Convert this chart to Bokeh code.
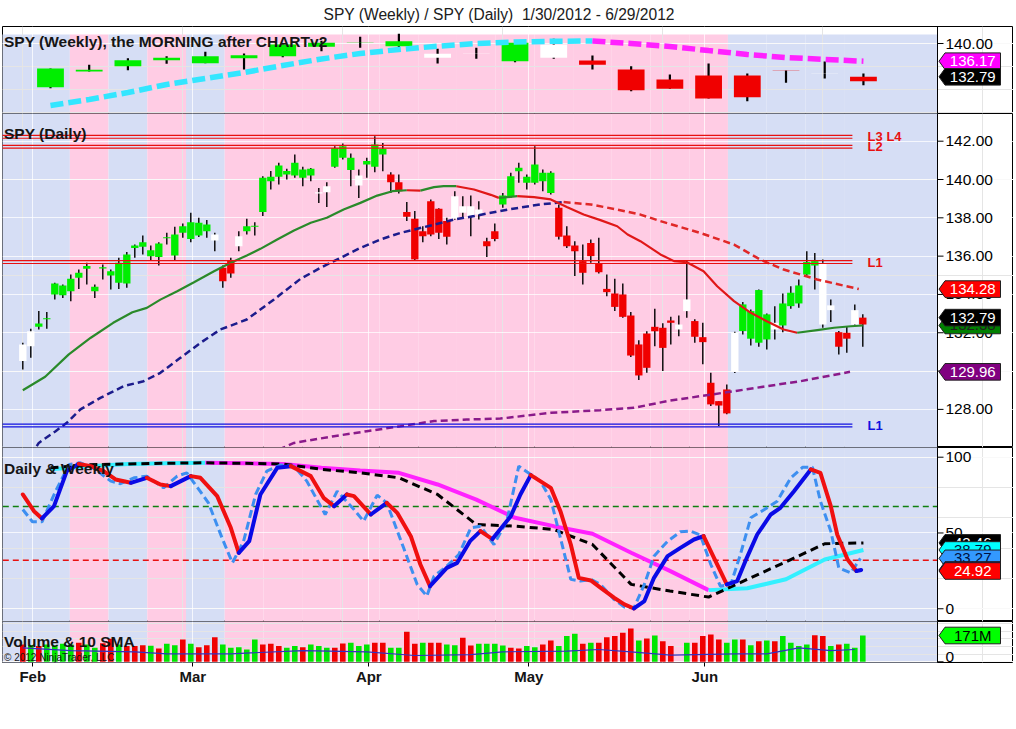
from bokeh.plotting import figure
from bokeh.layouts import column
from bokeh.models import Range1d, FixedTicker, Grid, Label, LinearAxis
from bokeh.embed import file_html
from bokeh.resources import INLINE
from bokeh.core.properties import value

FONT = "Liberation Sans"
TITLE = "SPY (Weekly) / SPY (Daily)\u00a0 1/30/2012 - 6/29/2012"

# ---------------- data ----------------
month_labels = ["Feb", "Mar", "Apr", "May", "Jun"]
month_start_bar = [1, 21, 43, 63, 85]

week_ending = ["2/3", "2/10", "2/17", "2/24", "3/2", "3/9", "3/16", "3/23", "3/30", "4/5", "4/13",
               "4/20", "4/27", "5/4", "5/11", "5/18", "5/25", "6/1", "6/8", "6/15", "6/22", "6/29"]
w_open = [130.54, 133.94, 135.09, 136.39, 135.74, 136.82, 137.25, 139.29, 140.20, 139.42, 137.77,
          137.90, 136.17, 139.78, 136.32, 134.37, 132.21, 133.07, 133.07, 134.16, 133.45, 131.84]
w_close = [134.59, 134.31, 136.39, 136.90, 137.25, 137.47, 139.78, 140.15, 140.28, 140.50, 136.90,
           137.84, 140.15, 136.90, 135.39, 129.89, 130.19, 128.10, 128.38, 134.10, 133.50, 132.79]
w_high = [134.60, 135.39, 136.82, 137.25, 138.20, 137.84, 139.78, 140.58, 141.45, 142.10, 138.85,
          139.07, 140.15, 141.02, 137.40, 135.09, 133.29, 135.67, 133.50, 134.16, 136.10, 133.50]
w_low = [130.32, 133.94, 134.22, 135.60, 135.74, 134.37, 137.03, 138.33, 139.07, 139.20, 135.67,
         136.69, 135.95, 136.69, 134.37, 129.68, 130.19, 128.10, 127.51, 131.49, 132.42, 130.97]
w_color = ["g", "g", "g", "g", "g", "g", "g", "g", "g", "g", "w",
           "w", "g", "w", "r", "r", "r", "r", "r", "r", "w", "r"]
w_bias = ["b", "p", "b", "p", "b", "p", "p", "p", "p", "p", "p",
          "p", "p", "p", "p", "p", "p", "p", "b", "b", "b", "b"]
w_ma = [126.58, 127.88, 129.39, 131.13, 132.42, 133.72, 135.24, 136.65, 137.84, 138.70, 139.42,
        140.00, 140.32, 140.50, 140.54, 140.00, 139.35, 138.48, 137.62, 136.97, 136.54, 136.17]
w_stoch_k = [93.0, 95.0, 95.5, 96.0, 96.3, 96.0, 95.5, 92.0, 89.7, 86.4, 75.4,
             55.6, 54.5, 52.3, 42.4, 16.1, 11.7, 7.7, 19.4, 31.0, 42.9, 43.46]
w_stoch_d = [92.0, 94.0, 95.5, 96.0, 96.3, 96.0, 95.5, 93.0, 91.3, 89.7, 82.0,
             72.0, 60.0, 54.5, 49.5, 37.0, 25.0, 12.3, 13.5, 19.5, 32.5, 38.79]

d_open = [131.39, 132.08, 132.31, 132.70, 134.00, 133.96, 134.17, 134.87, 135.34, 134.17,
          135.36, 134.99, 134.61, 134.57, 136.42, 136.49, 136.00, 135.96, 136.93, 136.03,
          137.22, 136.90, 137.08, 137.30, 137.13, 135.39, 135.74, 137.04, 137.30, 137.53,
          138.30, 139.91, 140.14, 140.26, 140.21, 140.09, 140.21, 139.33, 139.65, 140.66,
          141.13, 140.49, 140.21, 140.78, 140.66, 141.30, 140.26, 139.86, 138.30, 137.95,
          137.30, 138.87, 138.47, 137.83, 139.13, 138.61, 138.61, 138.43, 136.78, 137.30,
          138.69, 139.13, 140.43, 139.83, 139.83, 139.91, 139.30, 138.52, 137.08, 136.56,
          135.74, 136.69, 135.60, 134.29, 134.05, 134.00, 132.90, 131.39, 131.96, 132.31,
          132.26, 132.64, 132.43, 133.74, 132.61, 131.77, 129.39, 128.43, 129.04, 132.00,
          132.09, 131.69, 131.48, 131.65, 132.52, 132.38, 133.39, 133.53, 135.04, 135.51,
          135.65, 133.43, 132.03, 132.00, 133.18, 132.43]
d_close = [130.52, 131.30, 132.48, 132.76, 134.57, 134.47, 134.82, 135.13, 135.48, 134.40,
           135.42, 135.21, 135.65, 136.09, 136.56, 136.73, 136.31, 136.66, 136.99, 137.13,
           137.56, 137.77, 137.74, 137.65, 136.82, 134.69, 135.09, 136.52, 137.56, 137.59,
           140.09, 140.14, 140.73, 140.44, 140.87, 140.52, 140.56, 139.27, 139.34, 141.65,
           141.74, 141.13, 139.69, 140.96, 141.83, 141.60, 139.86, 139.39, 138.05, 135.83,
           137.04, 137.13, 137.22, 137.01, 137.95, 138.26, 138.05, 138.17, 136.52, 136.90,
           139.16, 140.17, 140.61, 140.14, 140.78, 140.35, 140.35, 137.01, 136.52, 136.26,
           135.13, 136.00, 135.16, 134.12, 133.35, 132.83, 130.81, 129.77, 130.17, 132.08,
           131.21, 132.52, 132.17, 133.13, 131.79, 131.51, 128.26, 128.20, 127.79, 129.95,
           133.48, 133.13, 134.23, 132.96, 132.17, 133.53, 134.09, 134.47, 135.69, 135.74,
           132.43, 133.18, 131.27, 131.69, 132.43, 132.79]
d_high = [131.48, 132.21, 133.13, 133.08, 134.61, 134.52, 135.04, 135.30, 135.65, 134.52,
          135.56, 135.30, 135.91, 136.21, 136.61, 137.08, 136.56, 136.72, 137.22, 137.53,
          137.70, 138.26, 138.00, 137.88, 137.22, 135.51, 135.91, 137.30, 137.95, 137.77,
          140.17, 140.44, 140.87, 140.56, 141.30, 140.66, 140.60, 139.56, 139.86, 141.74,
          141.88, 141.36, 140.52, 141.13, 142.26, 141.91, 140.38, 140.26, 138.82, 138.35,
          137.56, 138.96, 138.50, 138.00, 139.39, 139.13, 139.16, 138.87, 136.96, 137.70,
          139.30, 140.35, 140.87, 140.26, 141.74, 140.52, 140.43, 138.69, 137.56, 136.78,
          136.61, 136.87, 136.96, 135.04, 134.82, 134.57, 133.08, 131.61, 132.08, 133.25,
          132.50, 132.83, 132.90, 135.74, 132.70, 132.52, 129.91, 128.43, 129.30, 132.05,
          133.60, 133.22, 134.26, 133.00, 133.39, 134.05, 134.43, 134.78, 136.26, 136.17,
          135.83, 133.74, 132.09, 132.35, 133.48, 132.96]
d_low = [130.08, 130.69, 132.17, 132.21, 133.74, 133.82, 133.65, 134.29, 134.52, 133.82,
         134.78, 134.26, 134.29, 134.35, 135.91, 136.09, 135.79, 135.51, 136.61, 135.79,
         136.96, 136.73, 137.00, 136.96, 136.26, 134.35, 134.87, 136.26, 137.13, 137.08,
         138.09, 139.48, 139.74, 140.00, 140.09, 139.65, 139.91, 138.78, 138.57, 140.61,
         141.04, 139.65, 139.04, 140.09, 140.38, 140.43, 139.30, 139.27, 137.83, 135.79,
         136.73, 137.04, 136.90, 136.61, 137.90, 138.00, 137.04, 137.91, 135.96, 136.78,
         138.52, 139.04, 139.83, 139.48, 139.74, 139.39, 139.22, 136.87, 136.43, 134.96,
         134.52, 135.65, 135.09, 133.91, 133.13, 132.78, 130.74, 129.53, 129.91, 131.30,
         130.00, 131.39, 131.82, 132.78, 131.48, 130.35, 128.17, 127.13, 127.74, 129.90,
         131.91, 131.34, 131.27, 131.13, 131.65, 132.03, 133.25, 133.30, 134.99, 134.26,
         132.26, 132.56, 130.87, 130.96, 132.38, 131.27]
d_color = list("wwgggggggg" "gggggggggg" "ggggwrrwgg" "gggggggwwg" "ggwgggrrrr"
               "rrrrwwwwrr" "gggggggrrr" "rrrrrrrrrr" "rrwwrrrrrw" "ggggwggggg" "wwrrwr")

volume = [113, 110, 102, 113, 108, 117, 113, 124, 113, 91,
          120, 150, 113, 102, 102, 108, 104, 87, 117, 108,
          145, 117, 95, 108, 160, 113, 91, 95, 80, 145,
          113, 117, 102, 91, 102, 95, 113, 102, 91, 91,
          119, 124, 102, 113, 124, 124, 91, 91, 195, 117,
          124, 124, 124, 113, 108, 156, 106, 117, 117, 117,
          106, 91, 87, 102, 95, 113, 139, 102, 167, 182,
          117, 124, 124, 160, 167, 189, 216, 139, 152, 171,
          134, 102, 0, 124, 124, 167, 178, 145, 124, 145,
          145, 108, 134, 139, 134, 167, 124, 102, 113, 173,
          167, 102, 113, 117, 91, 171]
vol_color = list("rgrggggrgg" "rrgrrrgrgg" "rgrrrggggg" "rrrggrgggr" "rgggrrggrr"
                 "grrggrrggg" "grrggrrggg" "rgrrrrrgrg" "rrggrrrrgg" "rgrgrggggr" "rgrggg")
vol_sma_day = [0, 6, 14, 18, 26, 35, 43, 49, 56, 60, 68, 72, 76, 81, 89, 93, 97, 101, 104]
vol_sma = [91, 73, 65, 52, 52, 73, 65, 41, 47, 65, 69, 80, 65, 43, 52, 52, 91, 73, 80]

ma_fast_day = [0, 2.8, 5.75, 8.5, 11.3, 13.7, 15.5, 17.2, 19.3, 21.4, 23.9, 26, 28, 29.7, 31.8,
               33.9, 36, 38, 40.1, 42.2, 44.3, 46.2, 48, 49.7, 51.4, 52.6, 54.2, 56.4, 58.5,
               59.5, 61.8, 63.9, 66, 68, 70.1, 72.2, 74.3, 75.6, 77.2, 79.7, 81.4, 83, 85.1,
               86.8, 88.9, 91, 93, 95.1, 96.8, 99.3, 101.4, 103.5, 105]
ma_fast = [129.0, 129.7, 130.87, 131.74, 132.52, 133.07, 133.3, 133.73, 134.17, 134.64, 135.21,
           135.65, 136.03, 136.38, 136.87, 137.34, 137.74, 138.0, 138.43, 138.78, 139.16, 139.39,
           139.44, 139.42, 139.6, 139.65, 139.65, 139.48, 139.2, 139.04, 139.13, 139.08, 138.96,
           138.57, 138.17, 137.88, 137.56, 137.13, 136.78, 136.09, 135.74, 135.68, 135.21,
           134.43, 133.65, 133.04, 132.6, 132.17, 132.0, 132.14, 132.26, 132.34, 132.38]
ma_mid_day = [1, 2, 4.1, 5.5, 7.2, 9.7, 12.6, 15.1, 17.2, 19.7, 22.2, 24.7, 28, 31.4, 34.7, 37.2,
              39.7, 42.2, 44.7, 47.2, 50.6, 53.9, 56.4, 60.6, 64.7, 67.6, 71, 74.3, 77.2, 79.7,
              84.7, 88.9, 92.2, 95.1, 99.3, 104.5]
ma_mid = [125.6, 126.25, 126.86, 127.3, 128.0, 128.6, 129.21, 129.47, 129.91, 130.69, 131.47,
          132.17, 132.69, 133.74, 134.81, 135.39, 135.91, 136.43, 136.87, 137.21, 137.56, 137.91,
          138.09, 138.43, 138.7, 138.82, 138.7, 138.43, 138.17, 137.83, 137.21, 136.6, 135.82,
          135.3, 134.78, 134.28]
ma_slow_day = [32, 33.9, 38.9, 43, 47.2, 51.4, 55.5, 59.7, 66, 72.2, 76.4, 80.5, 84.7, 88.9, 93,
               97.2, 103.4]
ma_slow = [125.9, 126.25, 126.6, 126.86, 127.12, 127.39, 127.47, 127.52, 127.82, 127.96, 128.08,
           128.43, 128.69, 128.95, 129.21, 129.47, 129.96]

level_names = ["L3 L4", "L2", "L1", "L1"]
level_values = [142.23, 141.71, 135.69, 127.16]
level_colors = ["#e81010", "#e81010", "#e81010", "#1010e0"]

osc_day = [0, 1.4, 2.4, 3.9, 5.5, 7.0, 8.5, 10.1, 11.6, 13.5, 15.5, 17.2, 18.5, 21.0, 22.2, 24.3,
           26.0, 27.0, 28.3, 29.7, 31.8, 33.5, 36.0, 37.6, 38.9, 40.5, 41.4, 43.5, 45.5, 46.8,
           48.5, 49.7, 50.9, 53.0, 54.3, 55.9, 57.2, 58.7, 61.0, 62.2, 63.5, 66.0, 67.2, 68.5,
           69.5, 71.0, 72.2, 73.9, 75.2, 76.4, 77.7, 78.9, 80.6, 82.2, 83.9, 85.1, 86.4, 88.0,
           89.3, 90.5, 91.8, 93.5, 94.7, 96.4, 98.5, 99.7, 101.0, 101.8, 103.1, 104.2, 104.8]
osc_main = [75.4, 64.4, 59.6, 67.7, 90.8, 95.6, 94.1, 90.8, 85.3, 83.1, 86.4, 82.0, 80.9, 87.5,
            86.4, 74.3, 53.4, 36.9, 44.6, 75.4, 93.0, 94.1, 87.5, 73.2, 67.7, 75.4, 74.3, 62.2,
            69.9, 63.3, 47.9, 29.2, 14.9, 27.0, 30.3, 44.6, 51.2, 46.0, 61.1, 75.4, 88.2, 79.8,
            64.4, 42.4, 20.4, 18.7, 13.9, 7.3, 2.9, 0.2, 5.1, 20.4, 34.7, 40.2, 45.7, 47.9, 33.6,
            16.1, 18.3, 33.6, 49.0, 62.2, 66.6, 77.6, 91.9, 89.7, 67.7, 49.0, 32.5, 24.92, 25.6]
osc_fast_day = [0, 1.2, 2.4, 4.1, 5.8, 7.2, 8.9, 11.0, 12.2, 13.9, 15.5, 17.6, 19.3, 20.5, 21.4,
                23.2, 24.9, 26.2, 27.6, 29.1, 30.5, 32.2, 33.9, 35.5, 37.8, 39.3, 41.4, 42.6,
                44.3, 45.5, 47.6, 49.3, 50.5, 51.4, 53.0, 54.5, 56.0, 57.2, 58.9, 59.7, 60.5,
                62.0, 63.5, 64.7, 66.0, 67.2, 68.5, 69.7, 71.0, 72.2, 73.9, 75.2, 76.4, 77.7,
                78.9, 80.6, 82.2, 83.5, 84.7, 86.0, 87.2, 88.5, 89.7, 91.0, 92.7, 94.3, 96.0,
                97.5, 98.7, 99.7, 101.0, 102.0, 103.5, 104.7]
osc_fast = [65.5, 57.4, 57.4, 77.6, 95.2, 96.3, 92.6, 84.2, 82.5, 86.4, 87.5, 79.8, 87.5, 89.7,
            83.1, 69.9, 46.8, 30.3, 44.6, 75.4, 90.8, 94.8, 94.1, 84.2, 62.2, 77.6, 65.5, 57.8,
            75.0, 69.9, 40.2, 16.0, 8.4, 21.5, 28.1, 35.8, 53.4, 54.5, 42.4, 50.1, 57.8, 94.1,
            88.6, 84.2, 72.1, 46.8, 19.4, 18.3, 19.4, 16.1, 6.2, 1.1, 0.7, 16.1, 34.7, 44.6, 50.8,
            51.2, 48.6, 29.2, 14.9, 16.1, 35.8, 60.0, 65.5, 71.0, 86.4, 93.4, 93.4, 71.0, 51.2,
            27.0, 23.7, 33.27]
osc_upper, osc_lower = 67.5, 32.0

weekly_ticks = [140]
daily_ticks = [128, 130, 132, 134, 136, 138, 140, 142]
osc_ticks = [0, 50, 100]
vol_ticks = [0]

# tags (value label boxes on the price axis)
weekly_tags = [(136.17, "136.17", "#ff00ff", "white"), (132.79, "132.79", "black", "white")]
daily_tags = [(134.28, "134.28", "#ff0000", "white"), (132.38, "132.38", "#008000", "#202020"),
              (132.79, "132.79", "black", "white"), (129.96, "129.96", "#800080", "white")]
osc_tags = [(43.46, "43.46", "black", "white"), (38.79, "38.79", "#00ffff", "#001040"),
            (33.27, "33.27", "#3399ff", "#001040"), (25.6, "25.60", "#0000d0", "white"),
            (24.92, "24.92", "#ff0000", "white")]
vol_tags = [(171, "171M", "#00ff00", "black")]

# ---------------- layout / style ----------------
N = len(d_open)
PXB = 8.0                      # pixels per bar
LEFT = 2                       # frame left offset in px
FRAME_W = 1011
X0 = (LEFT - 22.3) / PXB       # first bar centre sits at x = 22.3 px
X1 = X0 + FRAME_W / PXB
XAX = X0 + (937 - LEFT) / PXB  # where the price scale starts
W0, WSTEP = 3.46, 4.839
w_pos = [W0 + WSTEP * k for k in range(len(w_open))]
edges = [-10.0] + [W0 + WSTEP * (k + 0.5) for k in range(len(w_open) - 1)] + [XAX]
BAND = {"b": "#d6def5", "p": "#ffcce4"}
CANDLE = {"g": "#00ee00", "r": "#f00000", "w": "#ffffff"}
month_pos = [m + 0.25 for m in month_start_bar]


def make_fig(frame_h, yr, ticks, band_top=None):
    p = figure(frame_width=FRAME_W, frame_height=frame_h, x_range=Range1d(X0, X1),
               y_range=Range1d(*yr), output_backend="svg", toolbar_location=None,
               x_axis_location=None, y_axis_location=None,
               min_border_left=LEFT, min_border_right=0, min_border_top=0, min_border_bottom=0)
    p.background_fill_color = "white"
    p.border_fill_color = "white"
    p.outline_line_color = "black"
    p.outline_line_width = 1
    p.add_layout(Grid(dimension=1, ticker=FixedTicker(ticks=ticks),
                      grid_line_color="white", grid_line_alpha=0.75))
    p.add_layout(Grid(dimension=0, ticker=FixedTicker(ticks=month_pos),
                      grid_line_color="white", grid_line_alpha=0.75))
    top = band_top if band_top is not None else yr[1] + 50
    p.quad(left=edges[:-1], right=edges[1:], bottom=yr[0] - 50, top=top,
           fill_color=[BAND[b] for b in w_bias], line_color=None, level="image")
    return p


def price_scale(p, yr, ticks, fmt, tags, ppu, label_shift=0):
    p.segment(x0=XAX, y0=yr[0] - 50, x1=XAX, y1=yr[1] + 50, line_color="black", line_width=1)
    p.segment(x0=[XAX] * len(ticks), y0=ticks, x1=[XAX + 6 / PXB] * len(ticks), y1=ticks,
              line_color="black", line_width=1)
    p.text(x=[XAX + 8 / PXB] * len(ticks), y=ticks, text=[fmt.format(t) for t in ticks],
           text_font=value(FONT), text_font_size="15.5px", text_color="black",
           text_align="left", text_baseline="middle", y_offset=label_shift)
    h = 8.3 / ppu
    tip, left, right = XAX + 1.5 / PXB, XAX + 7.5 / PXB, XAX + 63 / PXB
    for v, txt, bg, fg in tags:
        p.patch(x=[tip, left, right, right, left], y=[v, v + h, v + h, v - h, v - h],
                fill_color=bg, line_color="#202020", line_width=1)
        p.text(x=[(left + right) / 2], y=[v], text=[txt], text_align="center",
               text_baseline="middle", text_color=fg, text_font=value(FONT),
               text_font_size="15px")


def colored_runs(xs, ys, up, down):
    runs = []
    cur = None
    for i in range(len(xs) - 1):
        c = up if ys[i + 1] >= ys[i] else down
        if cur is not None and cur[0] == c:
            cur[1].append(xs[i + 1])
            cur[2].append(ys[i + 1])
        else:
            cur = [c, [xs[i], xs[i + 1]], [ys[i], ys[i + 1]]]
            runs.append(cur)
    return [r[1] for r in runs], [r[2] for r in runs], [r[0] for r in runs]


def panel_label(p, x, y, txt, size="15.5px", style="bold"):
    p.add_layout(Label(x=x, y=y, text=txt, text_baseline="middle", text_align="left",
                       text_font=FONT, text_font_size=size, text_font_style=style,
                       text_color="#151515"))


LX = X0 + 1.5 / PXB

# ---------- weekly panel ----------
yr1 = (124.85, 143.68)
p1 = make_fig(87, yr1, weekly_ticks, band_top=141.95)
p1.title.text = TITLE
p1.title.align = "left"
p1.title.offset = 321
p1.title.text_font = FONT
p1.title.text_font_size = "15.6px"
p1.title.text_font_style = "normal"
p1.title.text_color = "#202020"
p1.title.standoff = 7
wtop = [max(o, c) for o, c in zip(w_open, w_close)]
wbot = [min(o, c) for o, c in zip(w_open, w_close)]
p1.segment(x0=w_pos, y0=w_high, x1=w_pos, y1=w_low, line_color="black", line_width=2.2)
p1.vbar(x=w_pos, top=wtop, bottom=wbot, width=3.35,
        fill_color=[CANDLE[c] for c in w_color], line_color=None)
xs, ys, cs = colored_runs(w_pos, w_ma, "#33e6ff", "#ff22ff")
p1.multi_line(xs=xs, ys=ys, line_color=cs, line_width=5.5, line_dash="13 5")
panel_label(p1, LX, 140.45, "SPY (Weekly), the MORNING after CHARTv2")
price_scale(p1, yr1, weekly_ticks, "{:.2f}", weekly_tags, 4.62)

# ---------- daily panel ----------
yr2 = (126.01, 143.446)
p2 = make_fig(334, yr2, daily_ticks)
days = list(range(N))
dtop = [max(o, c) for o, c in zip(d_open, d_close)]
dbot = [min(o, c) for o, c in zip(d_open, d_close)]
p2.segment(x0=days, y0=d_high, x1=days, y1=d_low, line_color="black", line_width=1.4)
p2.vbar(x=days, top=dtop, bottom=dbot, width=0.92,
        fill_color=[CANDLE[c] for c in d_color], line_color=None)
xs, ys, cs = colored_runs(ma_slow_day, ma_slow, "#8a1a8a", "#8a1a8a")
p2.multi_line(xs=xs, ys=ys, line_color=cs, line_width=2.5, line_dash="7 4")
xs, ys, cs = colored_runs(ma_mid_day, ma_mid, "#1c1c8c", "#e02828")
p2.multi_line(xs=xs, ys=ys, line_color=cs, line_width=2.5, line_dash="7 4")
xs, ys, cs = colored_runs(ma_fast_day, ma_fast, "#2a8a2a", "#e01818")
p2.multi_line(xs=xs, ys=ys, line_color=cs, line_width=2.2)
for name, lv, lc in zip(level_names, level_values, level_colors):
    for d in (-0.075, 0.075):
        p2.segment(x0=-5, y0=lv + d, x1=103.7, y1=lv + d, line_color=lc, line_width=1.2)
    p2.add_layout(Label(x=105.6, y=lv, text=name, text_baseline="middle", text_align="left",
                        text_font=FONT, text_font_size="13px", text_font_style="bold",
                        text_color=lc))
panel_label(p2, LX, 142.38, "SPY (Daily)")
price_scale(p2, yr2, daily_ticks, "{:.2f}", daily_tags, 19.16)

# ---------- oscillator panel ----------
yr3 = (-8.4, 106.4)
p3 = make_fig(174, yr3, osc_ticks)
p3.segment(x0=-5, y0=osc_upper, x1=XAX, y1=osc_upper, line_color="#108010", line_width=1.6,
           line_dash="6 4")
p3.segment(x0=-5, y0=osc_lower, x1=XAX, y1=osc_lower, line_color="#e81010", line_width=1.6,
           line_dash="6 4")
xs, ys, cs = colored_runs(w_pos, w_stoch_d, "#33f0ff", "#ff22ff")
p3.multi_line(xs=xs, ys=ys, line_color=cs, line_width=4)
p3.line(w_pos, w_stoch_k, line_color="black", line_width=3, line_dash="8 5")
p3.line(osc_fast_day, osc_fast, line_color="#3d8ff0", line_width=3, line_dash="8 4")
xs, ys, cs = colored_runs(osc_day, osc_main, "#0a0ae6", "#f01010")
p3.multi_line(xs=xs, ys=ys, line_color=cs, line_width=4, line_join="round", line_cap="round")
panel_label(p3, LX, 92.5, "Daily & Weekly")
price_scale(p3, yr3, osc_ticks, "{:.0f}", osc_tags, 1.516)

# ---------- volume panel ----------
yr4 = (-4.5, 262)
p4 = make_fig(41, yr4, vol_ticks)
p4.vbar(x=days, top=volume, bottom=0, width=0.7,
        fill_color=["#00e600" if c == "g" else "#f00000" for c in vol_color], line_color=None)
p4.line(vol_sma_day, vol_sma, line_color="#3030c0", line_width=1.2)
panel_label(p4, LX, 133, "Volume & 10 SMA")
panel_label(p4, LX, 27, "\u00a9 2012 NinjaTrader, LLC", size="10px", style="normal")
price_scale(p4, yr4, vol_ticks, "{:.0f}", vol_tags, 1 / 6.5, label_shift=-5)
xax = LinearAxis(ticker=FixedTicker(ticks=month_pos),
                 major_label_overrides={m: lab for m, lab in zip(month_pos, month_labels)})
xax.axis_line_color = None
xax.major_tick_out = 4
xax.major_tick_in = 0
xax.minor_tick_line_color = None
xax.major_label_text_font = FONT
xax.major_label_text_font_size = "15px"
xax.major_label_text_font_style = "bold"
xax.major_label_text_color = "#151515"
xax.major_label_standoff = 1
p4.add_layout(xax, "below")
p4.min_border_bottom = 20

layout = column(p1, p2, p3, p4, spacing=0)
open("out.html", "w").write(file_html(layout, INLINE))
